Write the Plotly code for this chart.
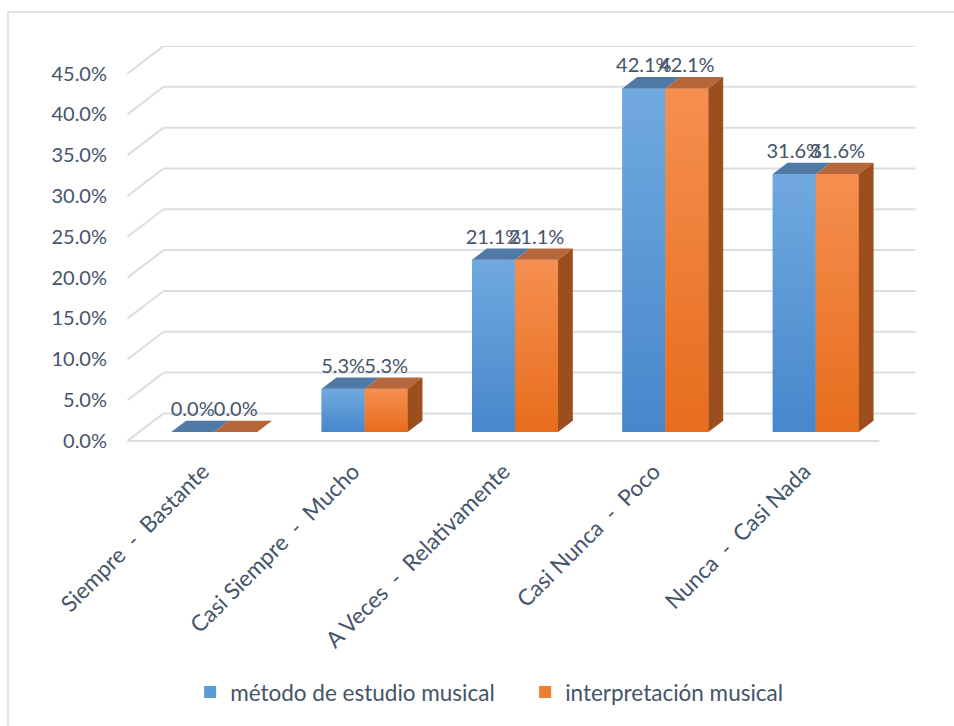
import plotly.graph_objects as go

# ---------------- data ----------------
categories = ["Siempre\u00a0 -\u00a0 Bastante", "Casi Siempre\u00a0 -\u00a0 Mucho",
              "A Veces\u00a0 -\u00a0 Relativamente", "Casi Nunca\u00a0 -\u00a0 Poco",
              "Nunca\u00a0 -\u00a0 Casi Nada"]
metodo = [0.0, 5.3, 21.1, 42.1, 31.6]
interpretacion = [0.0, 5.3, 21.1, 42.1, 31.6]
series_names = ["método de estudio musical", "interpretación musical"]
y_ticks = [0, 5, 10, 15, 20, 25, 30, 35, 40, 45]
y_tick_labels = ["0.0%", "5.0%", "10.0%", "15.0%", "20.0%", "25.0%", "30.0%", "35.0%", "40.0%", "45.0%"]

# ---------------- styling / 3D geometry ----------------
DX, DY = 0.24, 3.37          # full depth offset (category units, % units)
F0, F1 = 0.32, 0.73          # depth fraction of bar front / back faces
BW = 0.286                   # width of one bar (category units)
TXT = "#44546a"
GRID = "#dadee4"
FONT = "Lato"
front_cols = ["#5b9bd5", "#ed7d31"]
grad_cols = [("#4787cb", "#70a9df"), ("#e76d1c", "#f58f50")]   # (bottom, top)
top_cols = ["#5079a5", "#b5663b"]
side_col = "#9c4f1c"

series_vals = [metodo, interpretacion]
n = len(categories)
x_lo, x_hi = -0.5, n - 0.5

fig = go.Figure()

# gridlines (back wall + left side wall), derived from tick values
shapes = []
for v in y_ticks:
    shapes.append(dict(type="line", xref="x", yref="y", layer="below",
                       x0=x_lo + DX, x1=x_hi + DX, y0=v + DY, y1=v + DY,
                       line=dict(color=GRID, width=2)))
    shapes.append(dict(type="line", xref="x", yref="y", layer="below",
                       x0=x_lo, x1=x_lo + DX, y0=v, y1=v + DY,
                       line=dict(color=GRID, width=2)))
shapes.append(dict(type="line", xref="x", yref="y", layer="below",
                   x0=x_lo, x1=x_hi, y0=y_ticks[0], y1=y_ticks[0],
                   line=dict(color=GRID, width=2)))
# outer chart border
shapes.append(dict(type="rect", xref="paper", yref="paper", layer="below",
                   x0=-0.1405, x1=1.2, y0=-0.9, y1=1.085,
                   line=dict(color="#d9d9d9", width=1.5)))

base0 = F0 * DY
sx = F0 * DX
ddx = (F1 - F0) * DX
ddy = (F1 - F0) * DY

# front faces (bars)
for s, vals in enumerate(series_vals):
    off = sx + (s - 1) * BW
    fig.add_trace(go.Bar(
        x=list(range(n)), y=vals, base=[base0] * n,
        offset=off, width=BW, name=series_names[s],
        marker=dict(color=front_cols[s], line=dict(width=0)),
        hoverinfo="skip"))

# gradient shading of front faces
for s, vals in enumerate(series_vals):
    off = sx + (s - 1) * BW
    for i, v in enumerate(vals):
        if v <= 0:
            continue
        x0 = i + off
        x1 = x0 + BW
        fig.add_trace(go.Scatter(
            x=[x0, x1, x1, x0, x0], y=[base0, base0, base0 + v, base0 + v, base0],
            mode="lines", fill="toself", line=dict(width=0, color=front_cols[s]),
            fillgradient=dict(type="vertical",
                              colorscale=[[0, grad_cols[s][0]], [1, grad_cols[s][1]]]),
            showlegend=False, hoverinfo="skip"))

# top and side faces
for s, vals in enumerate(series_vals):
    off = sx + (s - 1) * BW
    tx, ty = [], []
    for i, v in enumerate(vals):
        x0 = i + off
        x1 = x0 + BW
        top = base0 + v
        tx += [x0, x1, x1 + ddx, x0 + ddx, x0, None]
        ty += [top, top, top + ddy, top + ddy, top, None]
    fig.add_trace(go.Scatter(x=tx, y=ty, mode="lines", fill="toself",
                             fillcolor=top_cols[s], line=dict(width=0, color=top_cols[s]),
                             showlegend=False, hoverinfo="skip"))
    if s == len(series_vals) - 1:
        px, py = [], []
        for i, v in enumerate(vals):
            x1 = i + off + BW
            top = base0 + v
            px += [x1, x1, x1 + ddx, x1 + ddx, x1, None]
            py += [base0, top, top + ddy, base0 + ddy, base0, None]
        fig.add_trace(go.Scatter(x=px, y=py, mode="lines", fill="toself",
                                 fillcolor=side_col, line=dict(width=0, color=side_col),
                                 showlegend=False, hoverinfo="skip"))

# data labels
for s, vals in enumerate(series_vals):
    off = sx + (s - 1) * BW
    fig.add_trace(go.Scatter(
        x=[i + off + BW / 2 for i in range(n)],
        y=[base0 + v + ddy for v in vals],
        mode="text", text=[f"{v:.1f}%" for v in vals],
        textposition="top center",
        textfont=dict(family=FONT, size=20, color=TXT),
        showlegend=False, hoverinfo="skip", cliponaxis=False))

fig.update_layout(
    width=954, height=726,
    margin=dict(l=120, r=37, t=46, b=281),
    paper_bgcolor="white", plot_bgcolor="white",
    barmode="overlay",
    font=dict(family=FONT, size=20, color=TXT),
    shapes=shapes,
    showlegend=True,
    legend=dict(orientation="h", x=0.088, xanchor="left", y=-0.62, yanchor="middle",
                entrywidth=290, entrywidthmode="pixels",
                font=dict(family=FONT, size=22.5, color=TXT), traceorder="normal"),
    xaxis=dict(range=[-0.55, 4.75], tickvals=list(range(n)), ticktext=categories,
               tickangle=-45, showgrid=False, zeroline=False, showline=False,
               ticks="", ticklabelstandoff=8,
               tickfont=dict(family=FONT, size=22.5, color=TXT), fixedrange=True),
    yaxis=dict(range=[-0.5, 48.37], tickvals=y_ticks, ticktext=y_tick_labels,
               showgrid=False, zeroline=False, showline=False, ticks="",
               ticklabelstandoff=12,
               tickfont=dict(family=FONT, size=20, color=TXT), fixedrange=True),
)

fig.write_html("out.html", config={"displayModeBar": False},
               post_script="document.body.style.margin='0';document.body.style.overflow='hidden';")
